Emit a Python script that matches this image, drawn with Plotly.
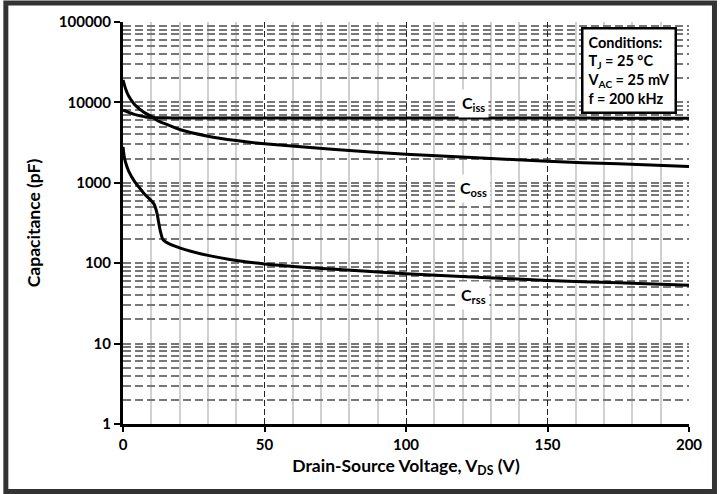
import plotly.graph_objects as go
import numpy as np

# Data
vds = [0, 0.5, 1, 2, 4, 6, 8, 10, 11, 12, 13, 14, 15, 20, 30, 40, 50, 75, 100, 125, 150, 175, 200]
ciss = [8000, 7900, 7800, 7500, 7100, 6800, 6600, 6500, 6470, 6450, 6440, 6430, 6420, 6410, 6400, 6400, 6400, 6400, 6390, 6380, 6380, 6370, 6370]
coss = [19000, 16500, 14500, 12000, 9500, 8200, 7300, 6700, 6350, 6000, 5750, 5550, 5400, 4600, 3800, 3350, 3050, 2600, 2270, 2050, 1850, 1720, 1600]
crss = [2800, 2050, 1750, 1400, 1050, 850, 700, 600, 540, 420, 270, 200, 185, 155, 125, 108, 98, 84, 74, 67, 61, 57, 53]

labels = ["C<sub>iss</sub>", "C<sub>oss</sub>", "C<sub>rss</sub>"]
label_x = [124, 124, 124]
label_y = [9600, 850, 40]

x_tick_step = 50
x_minor_step = 10
y_ticks = [1, 10, 100, 1000, 10000, 100000]

FONT = "Lato"

fig = go.Figure()
for ys in (ciss, coss, crss):
    fig.add_trace(go.Scatter(x=vds, y=ys, mode="lines", line=dict(color="black", width=3, shape="spline", smoothing=0.6),
                             showlegend=False, hoverinfo="skip"))

for t, xv, yv in zip(labels, label_x, label_y):
    fig.add_annotation(x=xv, y=np.log10(yv), xref="x", yref="y", text="<b>" + t + "</b>", showarrow=False,
                       bgcolor="white", font=dict(family=FONT, size=16, color="black"), borderpad=3)

fig.add_annotation(xref="paper", yref="paper", x=0.979, y=0.987, xanchor="right", yanchor="top",
                   text="<b>Conditions:<br>T<sub>J</sub> = 25 °C<br>V<sub>AC</sub> = 25 mV<br>f = 200 kHz</b>",
                   showarrow=False, align="left", bgcolor="white", bordercolor="black", borderwidth=2.5,
                   borderpad=4, font=dict(family=FONT, size=14.5, color="black"))

# outer frame
fig.add_shape(type="rect", xref="paper", yref="paper", x0=-0.207, x1=1.045, y0=-0.168, y1=1.047,
              line=dict(color="#333333", width=5), layer="below")

fig.update_layout(
    width=723, height=494,
    margin=dict(l=123, r=34, t=22, b=70),
    paper_bgcolor="white", plot_bgcolor="white",
    font=dict(family=FONT, color="black"),
    xaxis=dict(range=[0, 200], tickmode="linear", tick0=0, dtick=x_tick_step,
               showline=True, linecolor="black", linewidth=3, ticks="outside", ticklen=5, tickwidth=2, tickcolor="black",
               showgrid=True, gridcolor="#222222", gridwidth=1, griddash="6px,3px",
               minor=dict(tickmode="linear", tick0=0, dtick=x_minor_step, showgrid=True, gridcolor="#d0d0d0",
                          gridwidth=1.5, griddash="solid", ticks=""),
               tickfont=dict(family=FONT, size=15, weight="bold"),
               title=dict(text="<b>Drain-Source Voltage, V<sub>DS</sub> (V)</b>", font=dict(family=FONT, size=17.5), standoff=8),
               zeroline=False),
    yaxis=dict(type="log", range=[0, 5], tickvals=y_ticks, ticktext=[str(v) for v in y_ticks],
               showline=True, linecolor="black", linewidth=3, ticks="outside", ticklen=6, tickwidth=2, tickcolor="black",
               showgrid=True, gridcolor="#777777", gridwidth=1.5, griddash="8px,4px",
               minor=dict(dtick="D1", showgrid=True, gridcolor="#777777", gridwidth=1.5, griddash="8px,4px", ticks=""),
               tickfont=dict(family=FONT, size=15, weight="bold"),
               title=dict(text="<b>Capacitance (pF)</b>", font=dict(family=FONT, size=17.5), standoff=14),
               zeroline=False),
)

fig.write_html("out.html", config={"displayModeBar": False},
               post_script="document.body.style.margin='0px';")
